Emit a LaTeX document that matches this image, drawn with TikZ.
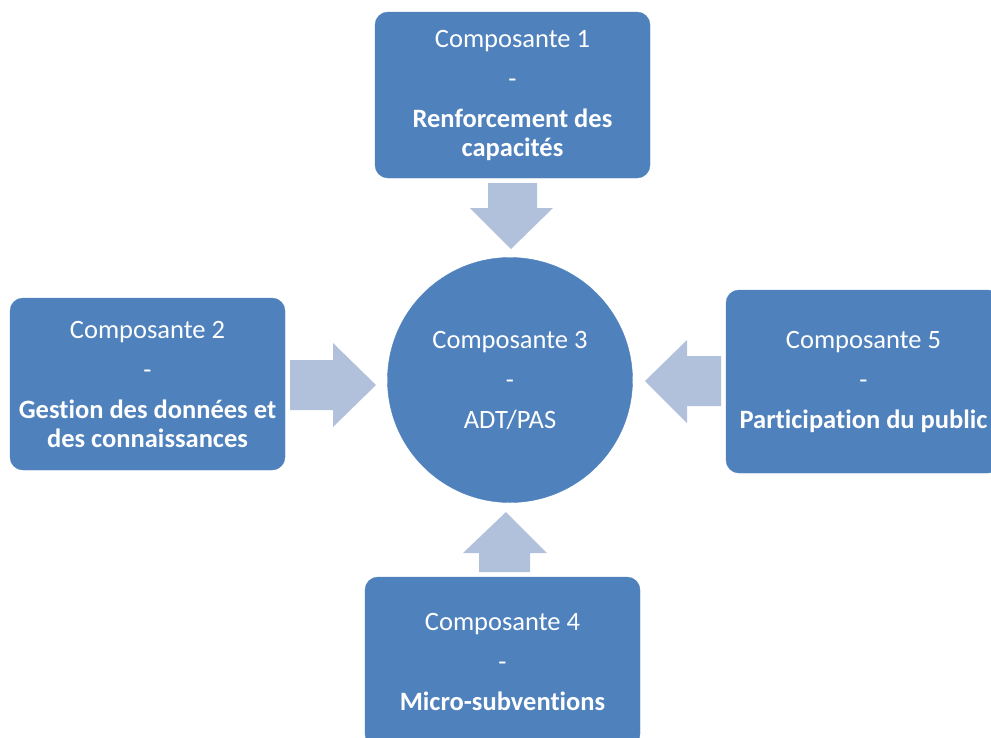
\documentclass[tikz,border=0pt]{standalone}
\usepackage{fontspec}
\setmainfont{Carlito}[Ligatures=NoCommon]
\definecolor{boxblue}{HTML}{4F81BD}
\definecolor{arrowblue}{HTML}{B2C1DB}
\begin{document}
\begin{tikzpicture}[x=1pt,y=-1pt,
  comp/.style={rectangle, rounded corners=13pt, fill=boxblue, draw=boxblue, text=white,
    align=center, inner sep=0pt, minimum width=275pt, font=\fontsize{26.5}{29}\selectfont},
  hub/.style={circle, fill=boxblue, draw=boxblue, text=white, align=center, inner sep=0pt,
    minimum size=245pt, font=\fontsize{26.5}{29}\selectfont},
  blockarrow/.style={fill=arrowblue, draw=none}]
\clip (0,0) rectangle (991,737);
\useasboundingbox (0,0) rectangle (991,737);

\node[comp, minimum height=166pt] (c1) at (512.5,95)
  {Composante 1\\[11pt]-\\[11pt]\textbf{Renforcement des}\\\textbf{capacités}};
\node[comp, minimum height=172pt] (c2) at (147.5,384)
  {Composante 2\\[11pt]-\\[11pt]\textbf{Gestion des données et}\\\textbf{des connaissances}};
\node[comp, minimum height=183pt] (c5) at (863.5,381.5)
  {Composante 5\\[11pt]-\\[11pt]\textbf{Participation du public}};
\node[comp, minimum height=170pt] (c4) at (502.5,662)
  {Composante 4\\[11pt]-\\[11pt]\textbf{Micro-subventions}};
\node[hub] (c3) at (510,380) {Composante 3\\[11pt]-\\[11pt]ADT/PAS};

% block arrows
\fill[blockarrow] (488,183) -- (537,183) -- (537,208) -- (553,208) -- (511,249) -- (470,208) -- (488,208) -- cycle;
\fill[blockarrow] (290,360) -- (333,360) -- (333,343) -- (376,385) -- (333,427) -- (333,410) -- (290,410) -- cycle;
\fill[blockarrow] (721,356) -- (687,356) -- (687,340) -- (645,381) -- (687,423) -- (687,406) -- (721,406) -- cycle;
\fill[blockarrow] (479,572) -- (479,553) -- (463,553) -- (506,512) -- (547,553) -- (530,553) -- (530,572) -- cycle;
\end{tikzpicture}
\end{document}
